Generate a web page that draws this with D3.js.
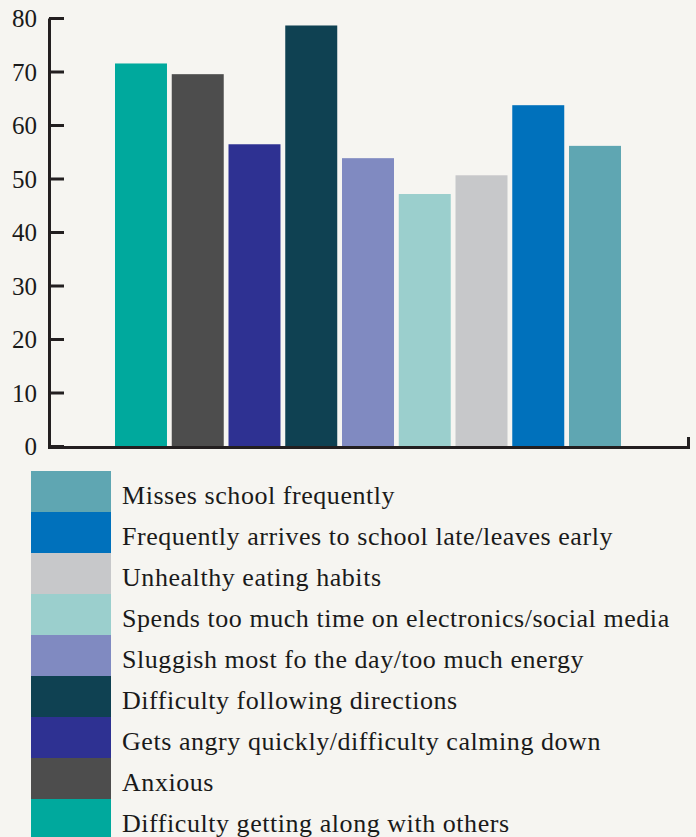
<!DOCTYPE html>
<html>
<head>
<meta charset="utf-8">
<script src="https://cdn.jsdelivr.net/npm/d3@7"></script>
<style>
  html, body { margin: 0; padding: 0; background: #f6f5f1; }
  svg { display: block; }
  text { font-family: "Liberation Serif", "DejaVu Serif", serif; fill: #1a1a1a; }
</style>
</head>
<body>
<div id="chart"></div>
<script>
// bars, left to right
var categories = [
  'Difficulty getting along with others',
  'Anxious',
  'Gets angry quickly/difficulty calming down',
  'Difficulty following directions',
  'Sluggish most fo the day/too much energy',
  'Spends too much time on electronics/social media',
  'Unhealthy eating habits',
  'Frequently arrives to school late/leaves early',
  'Misses school frequently'
]
var values = [71.5, 69.5, 56.4, 78.6, 53.8, 47.1, 50.6, 63.7, 56.1]
var colors = ['#00a99d', '#4d4d4d', '#2e3192', '#0f4152', '#808ac1', '#9bcfcd', '#c7c8ca', '#0071bc', '#5fa6b2']
var yTicks = [0, 10, 20, 30, 40, 50, 60, 70, 80]

var W = 696, H = 837

var svg = d3.select('#chart').append('svg')
  .attr('width', W).attr('height', H)

var y = d3.scaleLinear().domain([0, 80]).range([446, 18])
var x = d3.scaleBand().domain(categories).range([115, 621]).paddingInner(0.084).paddingOuter(0)

// bars
svg.append('g').selectAll('rect')
  .data(values)
  .enter().append('rect')
  .attr('x', function(d, i){ return x(categories[i]) })
  .attr('width', x.bandwidth())
  .attr('y', function(d){ return y(d) })
  .attr('height', function(d){ return y(0) - y(d) })
  .attr('fill', function(d, i){ return colors[i] })

// x axis: plain baseline with a small up tick at the right end
var xLine = d3.scaleLinear().domain([0, 1]).range([49, 688])
var xAxis = svg.append('g')
  .attr('transform', 'translate(0,' + (y(0) + 1) + ')')
  .call(d3.axisBottom(xLine).ticks(0).tickSizeOuter(-10))
xAxis.select('.domain').attr('stroke', '#231f20').attr('stroke-width', 3)
xAxis.selectAll('.tick').remove()

// y axis, ticks pointing into the plot
var yAxis = svg.append('g')
  .attr('transform', 'translate(49,0)')
  .call(d3.axisLeft(y).tickValues(yTicks).tickSizeInner(-15).tickSizeOuter(0).tickPadding(12))
yAxis.select('.domain').attr('stroke', '#231f20').attr('stroke-width', 3)
yAxis.selectAll('.tick line').attr('stroke', '#231f20').attr('stroke-width', 3)
yAxis.selectAll('.tick text')
  .style('font-size', '25px')
  .attr('fill', '#1a1a1a')
  .attr('dy', '0.35em')

// legend, reversed order
var legendItems = categories.map(function(c, i){ return {name: c, color: colors[i]} }).reverse()
var rowH = 41, legendTop = 471

var leg = svg.append('g').selectAll('g')
  .data(legendItems)
  .enter().append('g')
  .attr('transform', function(d, i){ return 'translate(31,' + (legendTop + i * rowH) + ')' })

leg.append('rect')
  .attr('width', 80).attr('height', rowH + 0.5)
  .attr('fill', function(d){ return d.color })

leg.append('text')
  .attr('x', 91).attr('y', 33)
  .style('font-size', '26px')
  .style('letter-spacing', '0.55px')
  .text(function(d){ return d.name })
</script>
</body>
</html>
